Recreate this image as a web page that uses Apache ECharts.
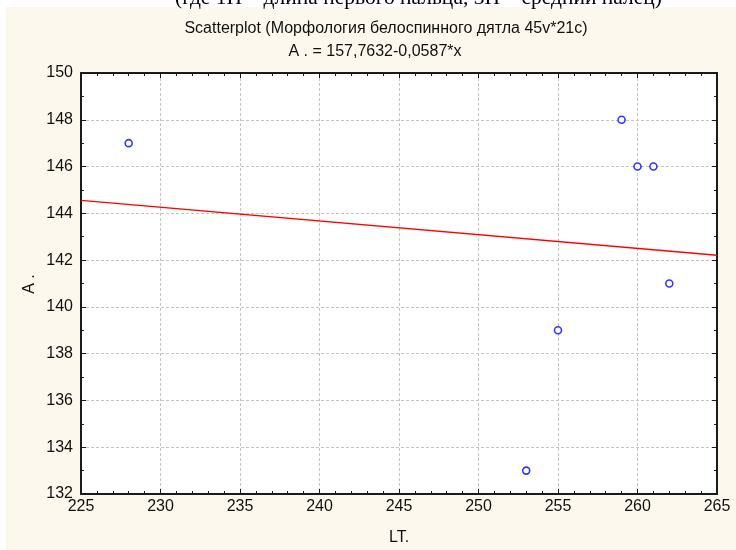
<!DOCTYPE html>
<html>
<head>
<meta charset="utf-8">
<script src="https://cdn.jsdelivr.net/npm/echarts@6/dist/echarts.min.js"></script>
<style>
  html, body { margin: 0; padding: 0; background: #ffffff; }
  #chart { width: 736px; height: 550px; }
</style>
</head>
<body>
<div id="chart"></div>
<script>
// LT. vs A. measurements
const ltValues = [228, 253, 255, 259, 260, 261, 262];
const aValues  = [147, 133, 139, 148, 146, 146, 141];

// Linear fit A. = intercept + slope * x
const fitIntercept = 157.7632;
const fitSlope = -0.0587;

const xTicks = { min: 225, max: 265, step: 5 };
const yTicks = { min: 132, max: 150, step: 2 };

const titleText = 'Scatterplot (Морфология белоспинного дятла 45v*21c)';
const subtitleText = 'A . = 157,7632-0,0587*x';
const captionText = '(где 1П – длина первого пальца, 3П – средний палец)';
const xName = 'LT.';
const yName = 'A .';

const points = ltValues.map((x, i) => [x, aValues[i]]);
const fitLine = [xTicks.min, xTicks.max].map(x => [x, fitIntercept + fitSlope * x]);

const chart = echarts.init(document.getElementById('chart'), null, { renderer: 'canvas' });

const sans = '"Liberation Sans", Arial, sans-serif';
const gridLine = { show: true, lineStyle: { color: '#c4c4c4', type: [3, 2], width: 1 } };
const frame = { show: true, onZero: false, lineStyle: { color: '#1a1a1a', width: 2 } };
const labelFont = { color: '#111', fontFamily: sans, fontSize: 16 };

function xAxisDef(pos, visibleLabels) {
  return {
    type: 'value', position: pos,
    min: xTicks.min, max: xTicks.max, interval: xTicks.step,
    axisLine: frame,
    axisTick: { show: true, inside: true, length: 5, lineStyle: { color: '#1a1a1a', width: 1 } },
    minorTick: { show: true, splitNumber: 5, length: 3, lineStyle: { color: '#1a1a1a', width: 1 } },
    splitLine: visibleLabels ? gridLine : { show: false },
    axisLabel: visibleLabels ? Object.assign({ margin: 5 }, labelFont) : { show: false }
  };
}
function yAxisDef(pos, visibleLabels) {
  return {
    type: 'value', position: pos,
    min: yTicks.min, max: yTicks.max, interval: yTicks.step,
    axisLine: frame,
    axisTick: { show: true, inside: true, length: 5, lineStyle: { color: '#1a1a1a', width: 1 } },
    minorTick: { show: true, splitNumber: 2, length: 3, lineStyle: { color: '#1a1a1a', width: 1 } },
    splitLine: visibleLabels ? gridLine : { show: false },
    axisLabel: visibleLabels ? Object.assign({ margin: 8 }, labelFont) : { show: false }
  };
}

chart.setOption({
  animation: false,
  backgroundColor: '#ffffff',
  graphic: [
    { type: 'rect', z: -10, shape: { x: 6, y: 7, width: 730, height: 543 }, style: { fill: '#fcf8ee' } },
    { type: 'text', x: 175, y: -2, style: { text: captionText, fill: '#000', font: '21.5px "Liberation Serif", "Times New Roman", serif', textAlign: 'left', textVerticalAlign: 'middle' } },
    { type: 'text', x: 386, y: 29, style: { text: titleText, fill: '#111', font: '16px ' + sans, textAlign: 'center', textVerticalAlign: 'middle' } },
    { type: 'text', x: 375, y: 52, style: { text: subtitleText, fill: '#111', font: '16px ' + sans, textAlign: 'center', textVerticalAlign: 'middle' } },
    { type: 'text', x: 399, y: 538, style: { text: xName, fill: '#111', font: '16px ' + sans, textAlign: 'center', textVerticalAlign: 'middle' } },
    { type: 'text', x: 30, y: 284, rotation: Math.PI / 2, style: { text: yName, fill: '#111', font: '16px ' + sans, textAlign: 'center', textVerticalAlign: 'middle' } }
  ],
  grid: { left: 81, right: 19, top: 73, bottom: 56, backgroundColor: '#ffffff', show: true, borderWidth: 0 },
  xAxis: [xAxisDef('bottom', true), xAxisDef('top', false)],
  yAxis: [yAxisDef('left', true), yAxisDef('right', false)],
  series: [
    {
      type: 'line', data: fitLine, xAxisIndex: 0, yAxisIndex: 0,
      showSymbol: false, silent: true,
      lineStyle: { color: '#ff0000', width: 1.3 }
    },
    {
      type: 'scatter', data: points, xAxisIndex: 0, yAxisIndex: 0,
      symbol: 'circle', symbolSize: 7,
      itemStyle: { color: '#ffffff', borderColor: '#0000ff', borderWidth: 1.6 }
    }
  ]
});
</script>
</body>
</html>
